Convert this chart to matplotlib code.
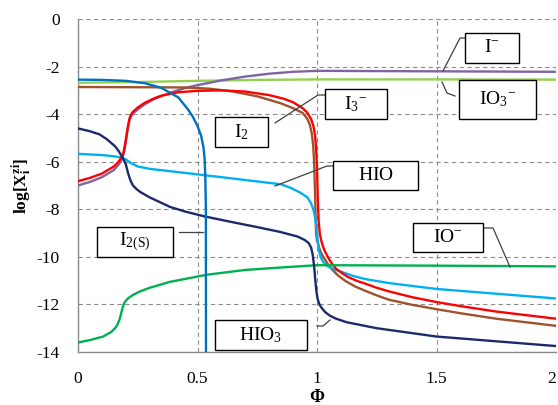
import matplotlib
matplotlib.use("Agg")
import matplotlib.pyplot as plt
from matplotlib.patches import Rectangle

plt.rcParams['font.family'] = ['Liberation Serif', 'DejaVu Serif']
plt.rcParams['mathtext.fontset'] = 'custom'
plt.rcParams['mathtext.rm'] = 'Liberation Serif'
plt.rcParams['mathtext.it'] = 'Liberation Serif:italic'
plt.rcParams['mathtext.bf'] = 'Liberation Serif:bold'

# ---------------- data ----------------
i2s_x = [0, 0.1, 0.2, 0.28, 0.35, 0.42, 0.46, 0.48, 0.5, 0.515, 0.525, 0.53, 0.533, 0.535, 0.5355]
i2s_y = [-2.55, -2.56, -2.6, -2.7, -2.9, -3.3, -3.8, -4.1, -4.5, -4.9, -5.4, -5.9, -6.8, -8.0, -14]

im_x = [0, 0.05, 0.1, 0.15, 0.17, 0.18, 0.19, 0.195, 0.2, 0.205, 0.21, 0.215, 0.22, 0.23, 0.25, 0.28, 0.32, 0.35, 0.4, 0.45, 0.5, 0.6, 0.7, 0.8, 0.9, 1.0, 1.5, 2.0]
im_y = [-7.0, -6.85, -6.65, -6.35, -6.12, -5.97, -5.72, -5.48, -5.18, -4.83, -4.53, -4.28, -4.13, -3.97, -3.8, -3.58, -3.36, -3.24, -3.05, -2.9, -2.78, -2.58, -2.42, -2.3, -2.22, -2.18, -2.2, -2.22]

io3_x = [0, 0.25, 0.5, 0.75, 1.0, 1.5, 2.0]
io3_y = [-2.68, -2.65, -2.6, -2.56, -2.54, -2.54, -2.55]

i3_x = [0, 0.3, 0.45, 0.55, 0.65, 0.75, 0.85, 0.9, 0.94, 0.96, 0.97, 0.978, 0.984, 0.988, 0.991, 0.994, 0.996, 1.0, 1.01, 1.02, 1.03, 1.045, 1.065, 1.09, 1.12, 1.16, 1.2, 1.25, 1.3, 1.4, 1.5, 1.6, 1.75, 2.0]
i3_y = [-2.86, -2.87, -2.88, -2.93, -3.05, -3.25, -3.55, -3.75, -3.95, -4.2, -4.45, -4.8, -5.3, -6.0, -7.0, -8.2, -9.0, -9.3, -9.65, -9.9, -10.05, -10.3, -10.55, -10.8, -11.02, -11.25, -11.42, -11.62, -11.8, -12.02, -12.2, -12.37, -12.6, -12.9]

i2_x = [0, 0.05, 0.1, 0.15, 0.17, 0.18, 0.19, 0.195, 0.2, 0.205, 0.21, 0.215, 0.22, 0.23, 0.25, 0.28, 0.32, 0.35, 0.42, 0.5, 0.6, 0.7, 0.8, 0.86, 0.9, 0.94, 0.96, 0.975, 0.985, 0.992, 0.996, 1.0, 1.003, 1.007, 1.012, 1.02, 1.03, 1.045, 1.06, 1.08, 1.1, 1.13, 1.17, 1.2, 1.25, 1.3, 1.4, 1.5, 1.6, 1.75, 2.0]
i2_y = [-6.82, -6.68, -6.5, -6.2, -6.0, -5.85, -5.62, -5.38, -5.08, -4.75, -4.45, -4.2, -4.05, -3.9, -3.72, -3.52, -3.33, -3.22, -3.08, -3.02, -3.0, -3.05, -3.2, -3.35, -3.5, -3.75, -3.95, -4.2, -4.5, -4.9, -5.4, -6.2, -7.5, -8.5, -9.05, -9.4, -9.7, -10.0, -10.25, -10.5, -10.65, -10.85, -11.02, -11.12, -11.3, -11.45, -11.7, -11.9, -12.07, -12.3, -12.6]

hio_x = [0, 0.1, 0.15, 0.18, 0.2, 0.22, 0.25, 0.3, 0.43, 0.6, 0.85, 0.89, 0.93, 0.96, 0.975, 0.985, 0.993, 0.998, 1.003, 1.008, 1.015, 1.025, 1.04, 1.055, 1.08, 1.1, 1.15, 1.2, 1.3, 1.5, 1.75, 2.0]
hio_y = [-5.67, -5.72, -5.77, -5.82, -5.9, -6.05, -6.2, -6.3, -6.45, -6.65, -6.95, -7.1, -7.3, -7.5, -7.75, -8.0, -8.4, -8.8, -9.3, -9.7, -10.0, -10.2, -10.35, -10.45, -10.55, -10.62, -10.8, -10.93, -11.1, -11.35, -11.55, -11.75]

hio3_x = [0, 0.05, 0.09, 0.12, 0.155, 0.17, 0.185, 0.2, 0.21, 0.22, 0.23, 0.245, 0.26, 0.3, 0.385, 0.45, 0.53, 0.65, 0.75, 0.845, 0.92, 0.95, 0.965, 0.975, 0.982, 0.988, 0.993, 0.997, 1.002, 1.01, 1.02, 1.035, 1.055, 1.08, 1.125, 1.25, 1.5, 1.75, 2.0]
hio3_y = [-4.6, -4.72, -4.85, -5.05, -5.35, -5.55, -5.8, -6.1, -6.5, -6.8, -7.0, -7.15, -7.27, -7.5, -7.9, -8.1, -8.3, -8.55, -8.75, -8.95, -9.15, -9.3, -9.42, -9.6, -9.9, -10.4, -11.0, -11.4, -11.75, -12.0, -12.15, -12.33, -12.48, -12.6, -12.75, -13.0, -13.35, -13.55, -13.75]

iom_x = [0, 0.05, 0.105, 0.14, 0.155, 0.165, 0.175, 0.18, 0.185, 0.19, 0.197, 0.21, 0.23, 0.26, 0.3, 0.385, 0.54, 0.7, 0.845, 1.0, 1.5, 2.0]
iom_y = [-13.6, -13.5, -13.35, -13.15, -13.0, -12.85, -12.6, -12.4, -12.2, -12.02, -11.88, -11.74, -11.6, -11.45, -11.3, -11.05, -10.75, -10.55, -10.45, -10.35, -10.37, -10.4]

xticks = [0, 0.5, 1, 1.5, 2]
xtick_labels = ['0', '0.5', '1', '1.5', '2']
yticks = [0, -2, -4, -6, -8, -10, -12, -14]
ytick_labels = ['0', '-2', '-4', '-6', '-8', '-10', '-12', '-14']

# ---------------- figure ----------------
W, H = 558, 405
fig = plt.figure(figsize=(W / 100, H / 100), dpi=100)
L, R, T, B = 78, 556, 19, 352
ax = fig.add_axes([L / W, 1 - B / H, (R - L) / W, (B - T) / H])
ax.set_xlim(0, 2)
ax.set_ylim(-14, 0)

lw = 1.7
ax.plot(io3_x, io3_y, color='#92D050', lw=lw, zorder=3)
ax.plot(im_x, im_y, color='#8064A2', lw=lw, zorder=3)
ax.plot(i3_x, i3_y, color='#A0522D', lw=lw, zorder=4)
ax.plot(hio_x, hio_y, color='#00B0F0', lw=lw, zorder=4)
ax.plot(i2_x, i2_y, color='#FF0000', lw=lw, zorder=5)
ax.plot(iom_x, iom_y, color='#00B050', lw=lw, zorder=5)
ax.plot(hio3_x, hio3_y, color='#1B2A6B', lw=lw, zorder=6)
ax.plot(i2s_x, i2s_y, color='#0070C0', lw=lw, zorder=7)

ax.set_xticks(xticks)
ax.set_xticklabels(xtick_labels)
ax.set_yticks(yticks)
ax.set_yticklabels(ytick_labels)
ax.tick_params(length=0, labelsize=12.5)
ax.tick_params(axis='y', pad=13)
ax.tick_params(axis='x', pad=14)
ax.get_xticklabels()[-1].set_ha('right')
ax.grid(True, color='#8c8c8c', linestyle=(0, (4, 3)), linewidth=0.8)
for s in ['top', 'right']:
    ax.spines[s].set_visible(False)
for s in ['left', 'bottom']:
    ax.spines[s].set_color('#8c8c8c')
    ax.spines[s].set_linewidth(1.0)
ax.set_axisbelow(True)

ax.set_xlabel(r'$\mathbf{\Phi}$', fontsize=13, labelpad=1)
ax.set_ylabel(r'$\mathbf{log[X_i^{zi}]}$', fontsize=12.5, labelpad=2)


# ---------------- labels (pixel layout) ----------------
def px2d(px, py):
    return (px - L) / (R - L) * 2.0, -(py - T) / (B - T) * 14.0


labels = [
    (r'$\mathrm{I}^{\mathrm{-}}$', 465, 519, 33, 63, [(465, 38), (460, 38), (443, 71)]),
    (r'$\mathrm{IO_3}^{\mathrm{-}}$', 459, 536, 80, 119, [(455, 96), (447, 93), (442, 82)]),
    (r'$\mathrm{I_3}^{\mathrm{-}}$', 325, 387, 89, 119, [(325, 95), (318, 95), (275, 123)]),
    (r'$\mathrm{I_2}$', 215, 268, 117, 147, []),
    (r'$\mathrm{HIO}$', 333, 418, 161, 190, [(333, 166), (327, 166), (275, 186)]),
    (r'$\mathrm{IO}^{\mathrm{-}}$', 413, 483, 223, 252, [(483, 228), (493, 228), (510, 267)]),
    (r'$\mathrm{I_{2(S)}}$', 97, 173, 227, 257, [(179, 232), (203, 232)]),
    (r'$\mathrm{HIO_3}$', 215, 307, 320, 350, [(317, 326), (323, 326), (330, 320)]),
]
for text, x0, x1, y0, y1, leader in labels:
    ax0, ay0 = px2d(x0, y1)
    ax1, ay1 = px2d(x1, y0)
    ax.add_patch(Rectangle((ax0, ay0), ax1 - ax0, ay1 - ay0, facecolor='white',
                           edgecolor='black', lw=1.0, zorder=10, clip_on=False))
    cx, cy = px2d((x0 + x1) / 2, (y0 + y1) / 2)
    ax.text(cx, cy, text, ha='center', va='center', fontsize=14, zorder=11)
    if leader:
        pts = [px2d(p[0], p[1]) for p in leader]
        ax.plot([p[0] for p in pts], [p[1] for p in pts], color='#404040',
                lw=0.9, zorder=9, clip_on=False)

fig.savefig('out.png', dpi=100)
